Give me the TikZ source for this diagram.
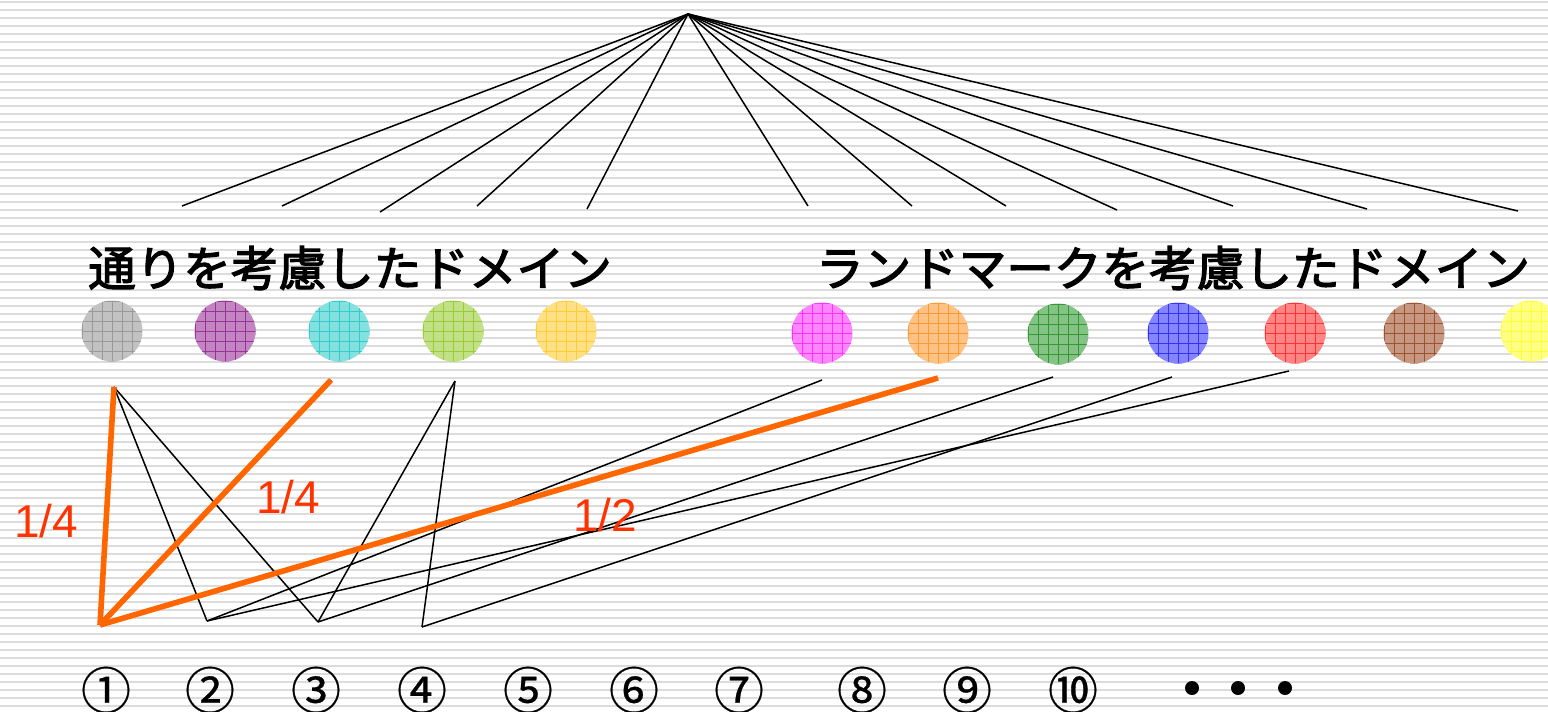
\documentclass[tikz,border=0pt]{standalone}
\usepackage{fontspec}
\setmainfont{Liberation Sans}
\newfontfamily\jpfont[FakeBold=2.6]{Noto Sans CJK JP}
\newfontfamily\numfont[FakeBold=0.6]{Noto Sans CJK JP}

\definecolor{stripe}{HTML}{DCDCDC}
\definecolor{hot}{HTML}{FF6600}
\definecolor{fraccol}{HTML}{FF3300}
\definecolor{cgray}{HTML}{999999}
\definecolor{cpurple}{HTML}{993399}
\definecolor{ccyan}{HTML}{33CCCC}
\definecolor{cyg}{HTML}{99CC33}
\definecolor{cgold}{HTML}{FFCC33}
\definecolor{cmag}{HTML}{FF33FF}
\definecolor{corange}{HTML}{FF9933}
\definecolor{cgreen}{HTML}{339933}
\definecolor{cblue}{HTML}{3333FF}
\definecolor{cred}{HTML}{FF3333}
\definecolor{cbrown}{HTML}{A0522D}
\definecolor{cyellow}{HTML}{FFFF33}

\begin{document}
\begin{tikzpicture}[
        x=0.5pt, y=-0.5pt,
        wire/.style={line width=0.75pt},
        hotwire/.style={line width=2.8pt, draw=hot},
        blob/.style={circle, inner sep=0pt, minimum size=30.5pt, fill=#1!60,
                     path picture={\draw[#1, line width=0.35pt, step=5pt]
                       (path picture bounding box.south west) grid
                       (path picture bounding box.north east);}},
        title/.style={font=\jpfont\fontsize{23.8}{28}\selectfont, inner sep=0pt},
        num/.style={font=\numfont\fontsize{25}{28}\selectfont, inner sep=0pt},
        frac/.style={font=\fontsize{23}{26}\selectfont, text=fraccol, inner sep=0pt},
        bullet/.style={circle, fill=black, inner sep=0pt, minimum size=7pt}
    ]
        \useasboundingbox (0,0) rectangle (1548,712);
        \fill[white] (0,0) rectangle (1548,712);
        \foreach \k in {0,...,88}
            \draw[stripe, line width=1.1pt] (0,2+8*\k) -- (1548,2+8*\k);

        % tree from the top
        \coordinate (top) at (688,14);
        \foreach \x/\y [count=\i] in {182/206, 282/206, 380/212, 477/206, 587/209,
                808/206, 912/206, 1006/206, 1117/210, 1233/206, 1367/209, 1518/211}
            \coordinate (t\i) at (\x,\y);
        \foreach \i in {1,...,12}
            \draw[wire] (top) -- (t\i);

        \node[title] (street) at (350,268) {通りを考慮したドメイン};
        \node[title] (landmark) at (1173,268) {ランドマークを考慮したドメイン};

        % domains
        \node[blob=cgray] (d1) at (112,331) {};
        \node[blob=cpurple] (d2) at (225,331) {};
        \node[blob=ccyan] (d3) at (339,331) {};
        \node[blob=cyg] (d4) at (453,331) {};
        \node[blob=cgold] (d5) at (566,331) {};
        \node[blob=cmag] (d6) at (822,333) {};
        \node[blob=corange] (d7) at (938,333) {};
        \node[blob=cgreen] (d8) at (1058,334) {};
        \node[blob=cblue] (d9) at (1178,333) {};
        \node[blob=cred] (d10) at (1295,333) {};
        \node[blob=cbrown] (d11) at (1414,333) {};
        \node[blob=cyellow] (d12) at (1531,331) {};

        \coordinate (u1) at (114,387);
        \coordinate (u3) at (331,380);
        \coordinate (u4) at (455,381);
        \coordinate (u6) at (822,380);
        \coordinate (u7) at (938,378);
        \coordinate (u8) at (1053,377);
        \coordinate (u9) at (1172,377);
        \coordinate (u10) at (1289,371);

        \coordinate (b1) at (100,625);
        \coordinate (b2) at (207,621);
        \coordinate (b3) at (318,622);
        \coordinate (b4) at (422,627);

        \draw[wire] (b1) -- (u1);
        \draw[wire] (b1) -- (u3);
        \draw[wire] (b1) -- (u7);
        \draw[wire] (b2) -- (u1);
        \draw[wire] (b2) -- (u6);
        \draw[wire] (b2) -- (u10);
        \draw[wire] (b3) -- (u1);
        \draw[wire] (b3) -- (u4);
        \draw[wire] (b3) -- (u8);
        \draw[wire] (b4) -- (u4);
        \draw[wire] (b4) -- (u9);

        \draw[hotwire] (b1) -- (u1);
        \draw[hotwire] (b1) -- (u3);
        \draw[hotwire] (b1) -- (u7);

        \node[frac] (w1) at (46,521) {1/4};
        \node[frac] (w2) at (288,497) {1/4};
        \node[frac] (w3) at (605,515) {1/2};

        % users
        \foreach \x/\s [count=\i] in {106/①, 210/②, 316/③, 422/④, 528/⑤,
                634/⑥, 739/⑦, 862/⑧, 967/⑨, 1073/⑩}
            \node[num] (n\i) at (\x,690) {\s};
        \node[bullet] (more1) at (1192,688) {};
        \node[bullet] (more2) at (1238,688) {};
        \node[bullet] (more3) at (1285,688) {};
    \end{tikzpicture}
\end{document}
